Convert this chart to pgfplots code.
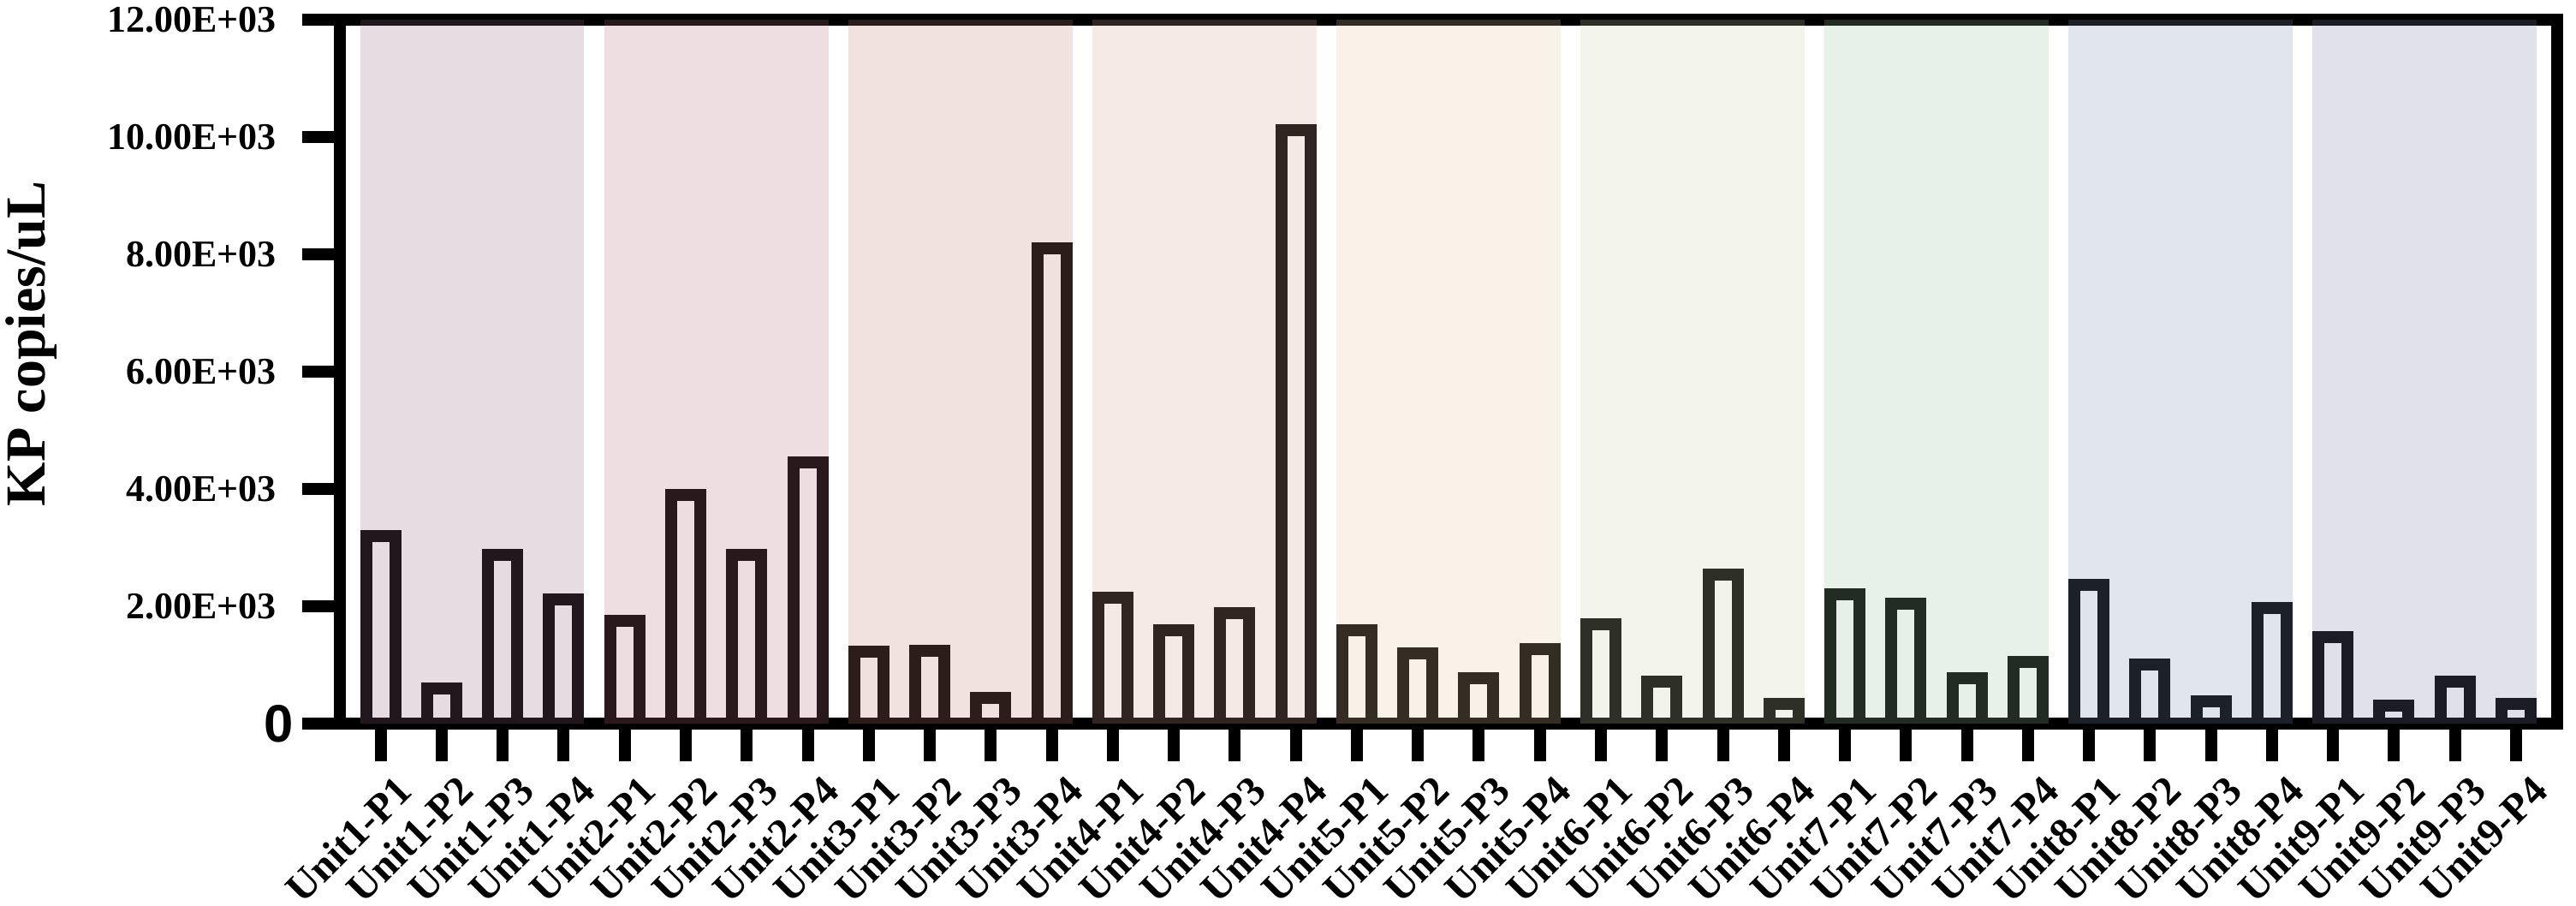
\documentclass[border=0pt]{standalone}
\usepackage{fontspec}
\setmainfont{Liberation Serif}
\newfontfamily\zerofont{Liberation Sans}
\usepackage{pgfplots}
\usepackage{pgfplotstable}
\pgfplotsset{compat=1.18}

\definecolor{c1}{RGB}{146,103,125}
\definecolor{c2}{RGB}{181,111,129}
\definecolor{c3}{RGB}{194,129,116}
\definecolor{c4}{RGB}{212,164,146}
\definecolor{c5}{RGB}{233,194,155}
\definecolor{c6}{RGB}{203,207,168}
\definecolor{c7}{RGB}{155,194,159}
\definecolor{c8}{RGB}{125,142,181}
\definecolor{c9}{RGB}{125,125,159}

\pgfplotstableread{
x val
0 3200
1 600
2 2880
3 2120
4 1750
5 3900
6 2870
7 4450
8 1220
9 1240
10 440
11 8100
12 2150
13 1590
14 1880
15 10120
16 1590
17 1190
18 770
19 1270
20 1700
21 710
22 2540
23 340
24 2200
25 2040
26 770
27 1050
28 2360
29 1000
30 380
31 1970
32 1480
33 300
34 720
35 340
}\datatable

\begin{document}
\begin{tikzpicture}
\begin{axis}[
  name=ax,
  anchor=south west, at={(0,0)},
  scale only axis,
  width=647.375pt, height=205.5pt,
  xmin=-0.662, xmax=35.674,
  ymin=0, ymax=12000,
  clip=false,
  axis line style={line width=3.5pt, black},
  ybar, bar width=0.477,
  xtick={0,...,35},
  xticklabels={Unit1-P1,Unit1-P2,Unit1-P3,Unit1-P4,Unit2-P1,Unit2-P2,Unit2-P3,Unit2-P4,Unit3-P1,Unit3-P2,Unit3-P3,Unit3-P4,Unit4-P1,Unit4-P2,Unit4-P3,Unit4-P4,Unit5-P1,Unit5-P2,Unit5-P3,Unit5-P4,Unit6-P1,Unit6-P2,Unit6-P3,Unit6-P4,Unit7-P1,Unit7-P2,Unit7-P3,Unit7-P4,Unit8-P1,Unit8-P2,Unit8-P3,Unit8-P4,Unit9-P1,Unit9-P2,Unit9-P3,Unit9-P4},
  ytick={0,2000,4000,6000,8000,10000,12000},
  yticklabels={{\zerofont\bfseries\fontsize{15.4}{15.4}\selectfont 0\hspace*{-5pt}},2.00E+03,4.00E+03,6.00E+03,8.00E+03,10.00E+03,12.00E+03},
  tick align=outside,
  xtick pos=bottom, ytick pos=left,
  major tick style={line width=3.5pt, black},
  major tick length=11pt,
  xticklabel style={font=\fontsize{12}{12}\selectfont\bfseries, rotate=45, anchor=north east, inner sep=0pt, yshift=-5pt, xshift=0.5pt},
  yticklabel style={font=\fontsize{11}{11}\selectfont\bfseries, anchor=east, inner sep=0pt, xshift=-7.5pt},
  ylabel={KP copies/uL},
  ylabel style={font=\fontsize{16.5}{16.5}\selectfont\bfseries, at={(rel axis cs:-0.1392,0.5395)}, anchor=center},
]
\addplot[ybar, draw=black, fill=white, line width=3.5pt] table[x=x,y=val]{\datatable};
\fill[c1, opacity=0.23] (axis cs:-0.337,0) rectangle (axis cs:3.337,12000);
\fill[c2, opacity=0.23] (axis cs:3.663,0) rectangle (axis cs:7.337,12000);
\fill[c3, opacity=0.23] (axis cs:7.663,0) rectangle (axis cs:11.337,12000);
\fill[c4, opacity=0.23] (axis cs:11.663,0) rectangle (axis cs:15.337,12000);
\fill[c5, opacity=0.23] (axis cs:15.663,0) rectangle (axis cs:19.337,12000);
\fill[c6, opacity=0.23] (axis cs:19.663,0) rectangle (axis cs:23.337,12000);
\fill[c7, opacity=0.23] (axis cs:23.663,0) rectangle (axis cs:27.337,12000);
\fill[c8, opacity=0.23] (axis cs:27.663,0) rectangle (axis cs:31.337,12000);
\fill[c9, opacity=0.23] (axis cs:31.663,0) rectangle (axis cs:35.337,12000);
\end{axis}
\pgfresetboundingbox
\path[use as bounding box] ([xshift=-99.375pt, yshift=-53.25pt]ax.south west) rectangle ([xshift=5.5pt, yshift=5.75pt]ax.north east);
\end{tikzpicture}
\end{document}
